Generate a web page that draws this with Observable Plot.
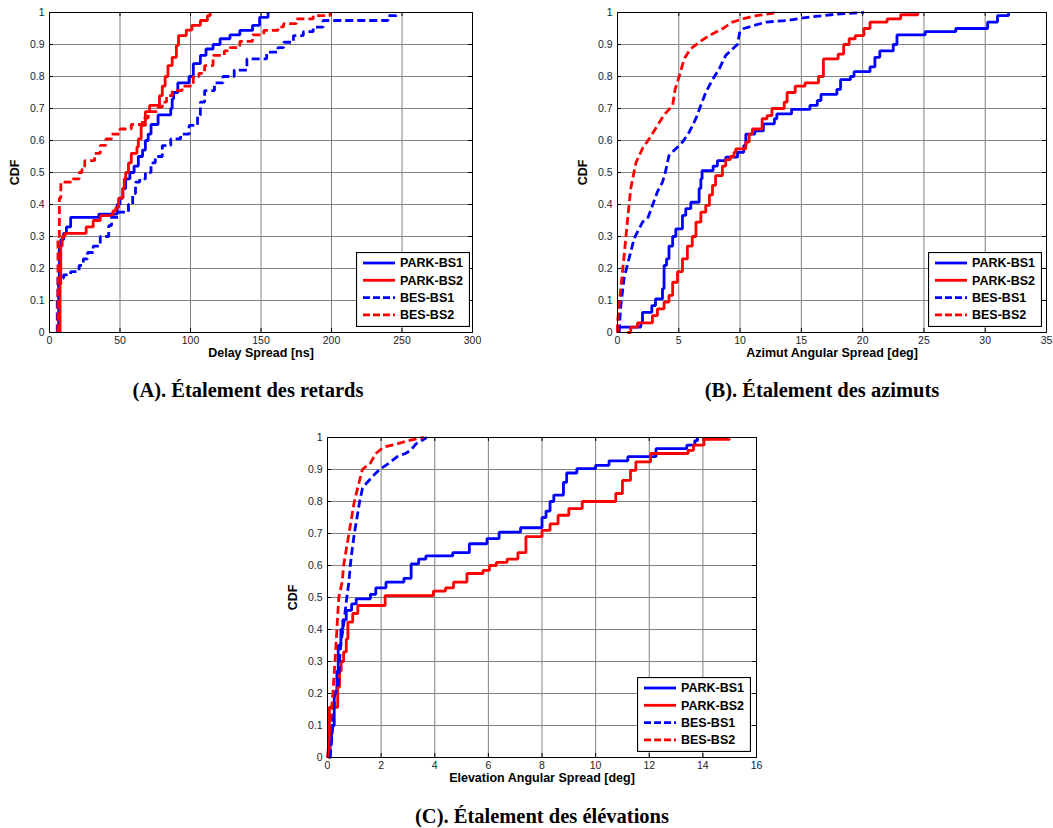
<!DOCTYPE html>
<html><head><meta charset="utf-8">
<script src="https://cdn.jsdelivr.net/npm/d3@7"></script>
<script src="https://cdn.jsdelivr.net/npm/@observablehq/plot@0.6"></script>
<style>
body{margin:0;background:#fff;}
#fig{position:relative;width:1053px;height:828px;overflow:hidden;font-family:Arial,"Liberation Sans",sans-serif;background:#fff;}
.panel{position:absolute;}
.caption{position:absolute;font-family:"Times New Roman","Liberation Serif",serif;font-weight:bold;font-size:20.5px;transform:translateX(-50%);white-space:nowrap;line-height:24px;}
.legend{position:absolute;}
</style></head><body><div id="fig"></div>
<script>
// ---------- series definitions ----------
const seriesNames = ["PARK-BS1", "PARK-BS2", "BES-BS1", "BES-BS2"];
const seriesColors = ["#0000ff", "#ff0000", "#0000ff", "#ff0000"];
const seriesDashed = [false, false, true, true];

const yTicks = [0, 0.1, 0.2, 0.3, 0.4, 0.5, 0.6, 0.7, 0.8, 0.9, 1];

// ---------- (A) Delay spread [ns] : [x, CDF] step points ----------
const xTicksA = [0, 50, 100, 150, 200, 250, 300];
const delayPARK_BS1 = [[6.5,0],[6.5,0.16],[7,0.27],[8,0.29],[10,0.31],[12,0.33],[15,0.36],[35,0.37],[48,0.40],[50,0.42],[52,0.45],[54,0.48],[57,0.50],[60,0.52],[63,0.55],[66,0.57],[68,0.60],[70,0.62],[72,0.65],[77,0.68],[86,0.70],[87,0.73],[88,0.75],[91,0.78],[99,0.80],[102,0.84],[107,0.866],[111,0.886],[116,0.90],[121,0.918],[128,0.93],[135,0.944],[144,0.96],[149,0.985],[155,1.0]];
const delayPARK_BS2 = [[7.5,0],[7.5,0.15],[8,0.27],[9,0.30],[11,0.31],[26,0.33],[31,0.35],[36,0.365],[45,0.38],[47,0.39],[49,0.42],[52,0.45],[53,0.48],[54,0.50],[56,0.53],[58,0.56],[62,0.58],[63,0.605],[65,0.647],[68,0.69],[71,0.71],[78,0.74],[80,0.77],[82,0.80],[84,0.834],[87,0.86],[90,0.897],[91.5,0.928],[97,0.945],[101,0.96],[107,0.975],[112,0.99],[114,1.0]];
const delayBES_BS1 = [[5.5,0],[5.5,0.10],[6,0.17],[10,0.18],[15,0.19],[21,0.21],[24,0.23],[27,0.25],[31,0.27],[36,0.30],[42,0.334],[44,0.36],[49,0.376],[56,0.40],[59,0.434],[61,0.47],[64,0.48],[68,0.50],[72,0.53],[75,0.55],[80,0.584],[86,0.605],[93,0.62],[99,0.647],[105,0.68],[107,0.72],[110,0.756],[117,0.78],[123,0.80],[131,0.82],[140,0.855],[154,0.876],[162,0.89],[166,0.907],[173,0.928],[180,0.94],[187,0.954],[194,0.975],[240,0.99],[246,1.0]];
const delayBES_BS2 = [[6,0],[6,0.30],[7,0.42],[8,0.47],[16,0.48],[21,0.50],[23,0.51],[25,0.537],[32,0.56],[36,0.585],[40,0.605],[44,0.62],[50,0.636],[58,0.65],[66,0.67],[70,0.69],[77,0.704],[80,0.72],[83,0.74],[87,0.756],[94,0.77],[102,0.80],[106,0.81],[110,0.834],[116,0.866],[124,0.88],[128,0.89],[135,0.91],[144,0.93],[152,0.944],[162,0.955],[166,0.965],[175,0.98],[187,0.99],[199,1.0]];

// ---------- (B) Azimuth angular spread [deg] ----------
const xTicksB = [0, 5, 10, 15, 20, 25, 30, 35];
const aziPARK_BS1 = [[0.1,0],[0.1,0.017],[1.9,0.03],[2.04,0.063],[2.8,0.084],[3.1,0.105],[3.67,0.137],[3.8,0.21],[4.0,0.23],[4.2,0.27],[4.5,0.30],[4.76,0.324],[5.3,0.366],[5.57,0.387],[5.98,0.407],[6.66,0.45],[6.8,0.48],[6.9,0.506],[7.8,0.52],[8.15,0.537],[8.83,0.548],[9.79,0.563],[10.3,0.584],[10.47,0.62],[11.2,0.63],[11.9,0.652],[12.8,0.668],[13.0,0.683],[14.2,0.697],[15.7,0.71],[16.3,0.725],[16.6,0.744],[17.9,0.76],[18.2,0.79],[19.0,0.80],[19.3,0.815],[20.6,0.83],[21.0,0.86],[21.4,0.88],[22.5,0.90],[22.8,0.93],[25.1,0.94],[27.6,0.95],[30.2,0.97],[31.0,0.99],[31.9,1.0]];
const aziPARK_BS2 = [[0.8,0],[1.08,0.017],[1.63,0.03],[2.85,0.053],[3.26,0.074],[3.8,0.095],[4.2,0.116],[4.5,0.157],[4.9,0.19],[5.3,0.23],[5.7,0.27],[6.1,0.30],[6.4,0.345],[6.8,0.376],[7.2,0.397],[7.5,0.43],[7.75,0.46],[8.0,0.49],[8.56,0.52],[8.83,0.54],[9.2,0.55],[9.5,0.563],[9.65,0.574],[10.47,0.595],[10.74,0.62],[11.0,0.636],[11.8,0.668],[12.2,0.678],[12.6,0.70],[13.6,0.72],[13.84,0.75],[14.5,0.77],[15.3,0.78],[16.4,0.80],[16.8,0.855],[18.0,0.87],[18.45,0.90],[18.9,0.918],[19.4,0.928],[20.1,0.95],[20.6,0.97],[22.0,0.98],[23.1,0.993],[24.5,1.0]];
const aziBES_BS1 = [[0.14,0],[0.14,0.01],[0.27,0.084],[0.54,0.17],[0.8,0.21],[1.36,0.294],[2.04,0.345],[2.5,0.36],[2.85,0.397],[3.26,0.44],[3.67,0.47],[3.9,0.50],[4.2,0.553],[5.3,0.595],[5.85,0.626],[6.39,0.668],[6.8,0.71],[7.2,0.75],[7.75,0.79],[8.3,0.824],[8.83,0.866],[9.38,0.886],[9.79,0.90],[9.98,0.94],[10.3,0.95],[12.1,0.97],[13.8,0.975],[15.5,0.985],[17.9,0.995],[20.1,1.0]];
const aziBES_BS2 = [[0,0],[0,0.03],[0.27,0.14],[0.54,0.24],[0.8,0.345],[1.08,0.45],[1.5,0.53],[2.04,0.575],[2.58,0.605],[3.1,0.637],[3.8,0.68],[4.5,0.71],[4.7,0.76],[5.03,0.80],[5.44,0.855],[5.95,0.886],[6.66,0.907],[7.48,0.928],[8.56,0.949],[9.38,0.97],[10.2,0.98],[11.3,0.99],[12.6,0.997],[13.0,1.0]];

// ---------- (C) Elevation angular spread [deg] ----------
const xTicksC = [0, 2, 4, 6, 8, 10, 12, 14, 16];
const elePARK_BS1 = [[0.05,0],[0.1,0.05],[0.15,0.1],[0.25,0.2],[0.35,0.27],[0.4,0.35],[0.5,0.4],[0.57,0.43],[0.7,0.46],[0.9,0.48],[1.07,0.496],[1.6,0.51],[1.8,0.53],[2.18,0.548],[2.85,0.56],[3.12,0.605],[3.4,0.62],[3.67,0.63],[4.67,0.64],[5.29,0.668],[5.95,0.684],[6.4,0.704],[7.2,0.718],[8.0,0.75],[8.15,0.77],[8.3,0.80],[8.44,0.82],[8.8,0.86],[8.92,0.889],[9.3,0.903],[10.0,0.913],[10.5,0.927],[11.2,0.94],[12.25,0.965],[13.4,0.976],[13.7,0.99],[13.8,1.0]];
const elePARK_BS2 = [[0.05,0],[0.07,0.157],[0.38,0.22],[0.45,0.27],[0.51,0.30],[0.6,0.33],[0.7,0.37],[0.76,0.423],[0.94,0.45],[1.13,0.475],[2.15,0.506],[3.95,0.52],[4.4,0.53],[4.7,0.548],[5.2,0.575],[5.8,0.585],[6.04,0.60],[6.3,0.61],[6.7,0.62],[7.1,0.64],[7.4,0.69],[8.0,0.71],[8.3,0.73],[8.6,0.757],[9.0,0.778],[9.5,0.80],[10.75,0.825],[11.0,0.866],[11.3,0.897],[11.5,0.924],[12.05,0.95],[13.45,0.96],[13.65,0.976],[14.04,0.994],[15.0,0.995]];
const eleBES_BS1 = [[0.1,0],[0.15,0.05],[0.2,0.1],[0.28,0.2],[0.4,0.23],[0.45,0.3],[0.5,0.36],[0.58,0.4],[0.65,0.45],[0.72,0.5],[0.8,0.55],[0.85,0.6],[0.92,0.65],[1.0,0.7],[1.1,0.75],[1.2,0.8],[1.3,0.84],[1.38,0.85],[1.7,0.88],[1.94,0.9],[2.3,0.92],[2.6,0.94],[2.9,0.95],[3.1,0.96],[3.3,0.98],[3.5,0.99],[3.7,1.0]];
const eleBES_BS2 = [[0,0],[0.05,0.05],[0.1,0.1],[0.2,0.2],[0.28,0.3],[0.35,0.4],[0.42,0.5],[0.55,0.55],[0.6,0.6],[0.7,0.65],[0.8,0.7],[0.9,0.75],[1.0,0.8],[1.15,0.85],[1.3,0.9],[1.6,0.92],[1.8,0.95],[2.1,0.97],[2.6,0.98],[3.0,0.99],[3.6,1.0]];

// ---------- text ----------
const xLabels = ["Delay Spread [ns]", "Azimut Angular Spread [deg]", "Elevation Angular Spread [deg]"];
const yLabel = "CDF";
const captions = ["(A). Étalement des retards", "(B). Étalement des azimuts", "(C). Étalement des élévations"];

const fig = document.getElementById("fig");
const fmt = d3.format("~g");

function makePanel(cfg) {
  const {series, xTicks, xLabel, left, top, width, height, mL, mT, mR, mB, smoothDashed} = cfg;
  const plotW = width - mL - mR, plotH = height - mT - mB;
  const tick = 4;
  const marks = [
    Plot.gridX(xTicks, {stroke: "#828282", strokeOpacity: 1, strokeWidth: 1}),
    Plot.gridY(yTicks, {stroke: "#828282", strokeOpacity: 1, strokeWidth: 1}),
    Plot.tickX(xTicks, {x: d => d, insetTop: plotH - tick, stroke: "#000"}),
    Plot.tickX(xTicks, {x: d => d, insetBottom: plotH - tick, stroke: "#000"}),
    Plot.tickY(yTicks, {y: d => d, insetRight: plotW - tick, stroke: "#000"}),
    Plot.tickY(yTicks, {y: d => d, insetLeft: plotW - tick, stroke: "#000"}),
    Plot.axisX(xTicks, {tickSize: 0, tickPadding: 4, tickFormat: fmt, label: null, fontSize: 10.5}),
    Plot.axisY(yTicks, {tickSize: 0, tickPadding: 5, tickFormat: fmt, label: null, fontSize: 10.5}),
    Plot.text([xLabel], {text: d => d, frameAnchor: "bottom", dy: 24, fontWeight: "bold", fontSize: 12.5, textAnchor: "middle", fill: "#000"}),
    Plot.text([yLabel], {text: d => d, frameAnchor: "left", dx: -35, rotate: -90, fontWeight: "bold", fontSize: 12.5, textAnchor: "middle", fill: "#000"})
  ];
  series.forEach((pts, i) => {
    marks.push(Plot.line(pts, {
      x: d => d[0], y: d => d[1],
      curve: (seriesDashed[i] && smoothDashed) ? "linear" : "step-after",
      stroke: seriesColors[i], strokeWidth: 2.8,
      strokeDasharray: seriesDashed[i] ? "8,4" : null,
      strokeLinejoin: "miter", strokeLinecap: "butt"
    }));
  });
  marks.push(Plot.frame({stroke: "#000", strokeWidth: 1}));
  const chart = Plot.plot({
    width, height, marginLeft: mL, marginTop: mT, marginRight: mR, marginBottom: mB,
    style: {fontFamily: "Arial, 'Liberation Sans', sans-serif", fontSize: "10.5px", color: "#222", background: "transparent"},
    x: {domain: [xTicks[0], xTicks[xTicks.length - 1]]},
    y: {domain: [0, 1]},
    marks
  });
  chart.classList.add("panel");
  chart.style.left = left + "px";
  chart.style.top = top + "px";
  fig.appendChild(chart);
}

function makeLegend(left, top) {
  const w = 113, h = 74;
  const div = document.createElement("div");
  div.className = "legend";
  div.style.left = left + "px";
  div.style.top = top + "px";
  fig.appendChild(div);
  const svg = d3.select(div).append("svg").attr("width", w + 1).attr("height", h + 1);
  svg.append("rect").attr("x", 0.5).attr("y", 0.5).attr("width", w).attr("height", h)
    .attr("fill", "#fff").attr("stroke", "#000").attr("stroke-width", 1.2);
  seriesNames.forEach((name, i) => {
    const cy = 11 + i * 17.3;
    svg.append("line").attr("x1", 7).attr("x2", 39).attr("y1", cy).attr("y2", cy)
      .attr("stroke", seriesColors[i]).attr("stroke-width", 2.8)
      .attr("stroke-dasharray", seriesDashed[i] ? "7,3" : null);
    svg.append("text").attr("x", 44).attr("y", cy).attr("dy", "0.35em")
      .attr("font-family", "Arial, 'Liberation Sans', sans-serif").attr("font-size", 12.5)
      .attr("font-weight", "bold").attr("fill", "#000").text(name);
  });
}

function makeCaption(text, cx, top) {
  const d = document.createElement("div");
  d.className = "caption";
  d.textContent = text;
  d.style.left = cx + "px";
  d.style.top = top + "px";
  fig.appendChild(d);
}

makePanel({series: [delayPARK_BS1, delayPARK_BS2, delayBES_BS1, delayBES_BS2], xTicks: xTicksA, xLabel: xLabels[0],
  left: 0, top: 0, width: 500, height: 370, mL: 49, mT: 12, mR: 28, mB: 38, smoothDashed: false});
makePanel({series: [aziPARK_BS1, aziPARK_BS2, aziBES_BS1, aziBES_BS2], xTicks: xTicksB, xLabel: xLabels[1],
  left: 568, top: 0, width: 485, height: 370, mL: 49, mT: 12, mR: 7, mB: 38, smoothDashed: true});
makePanel({series: [elePARK_BS1, elePARK_BS2, eleBES_BS1, eleBES_BS2], xTicks: xTicksC, xLabel: xLabels[2],
  left: 278, top: 425, width: 498, height: 370, mL: 49, mT: 12, mR: 20, mB: 38, smoothDashed: true});

makeLegend(356, 252);
makeLegend(928, 252);
makeLegend(637, 677);

makeCaption(captions[0], 248, 378);
makeCaption(captions[1], 822, 378);
makeCaption(captions[2], 542, 804);
</script>
</body></html>
